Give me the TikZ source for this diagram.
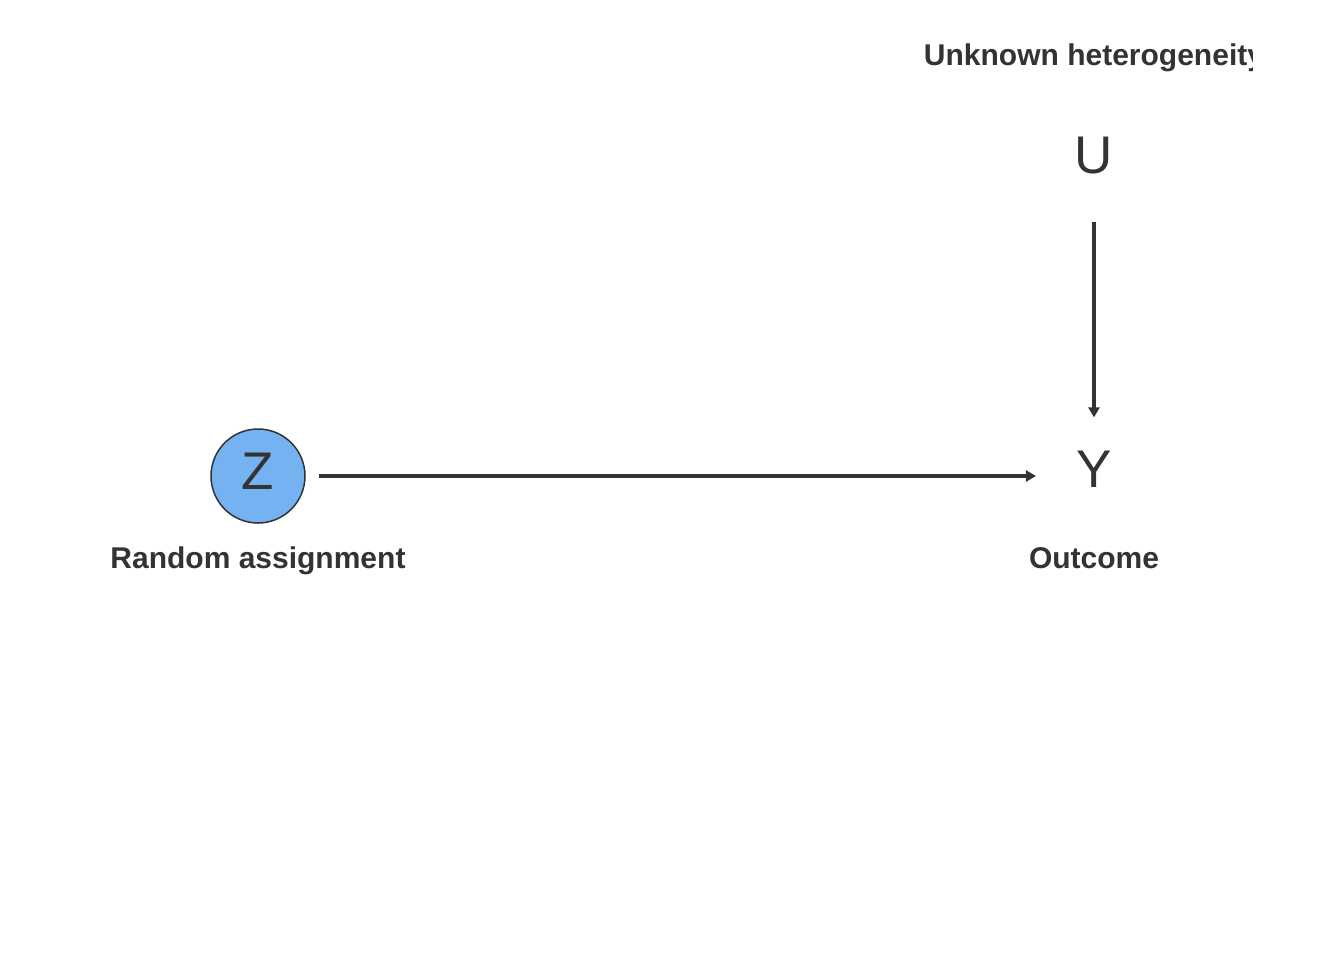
\documentclass[tikz,border=0pt]{standalone}
\usepackage{fontspec}
\setmainfont{Liberation Sans}
\usepackage{tikz}
\usetikzlibrary{positioning, arrows.meta}
\definecolor{ink}{HTML}{333333}
\definecolor{zblue}{HTML}{74B2F2}

\begin{document}
\begin{tikzpicture}[x=0.5pt, y=-0.5pt]

    % Styles
    \tikzstyle{var} = [inner sep=0pt, text=ink, font=\fontsize{26.5pt}{30pt}\selectfont]
    \tikzstyle{assigned} = [circle, minimum size=47pt, inner sep=0pt, text depth=5pt, draw=ink, line width=0.75pt, fill=zblue, text=ink, font=\fontsize{26.5pt}{30pt}\selectfont]
    \tikzstyle{caption} = [anchor=base, inner sep=0pt, text=ink, font=\fontsize{15pt}{18pt}\selectfont\bfseries]
    \tikzstyle{arrow} = [draw=ink, line width=1.7pt, -{Triangle[length=5pt, width=5.5pt]}]

    \fill[white] (0,0) rectangle (1344,960);
    \useasboundingbox (0,0) rectangle (1344,960);

    % Nodes
    \node (Z) [assigned] at (258,476) {Z};
    \node (Y) [var] at (1094,469) {Y};
    \node (U) [var] at (1094,156) {U};

    % Labels
    \node (zlabel) [caption] at (258,568) {Random assignment};
    \node (ylabel) [caption] at (1094,568) {Outcome};
    \begin{scope}
        \clip (0,0) rectangle (1252,960);
        \node (ulabel) [caption] at (1094,65) {Unknown heterogeneity};
    \end{scope}

    % Arrows
    \draw [arrow, shorten <=6.5pt, shorten >=20pt] (Z.east) -- (Z.east -| Y.west);
    \draw [arrow, shorten <=23.5pt, shorten >=16.5pt] (U.south) -- (Y.north);

\end{tikzpicture}
\end{document}
